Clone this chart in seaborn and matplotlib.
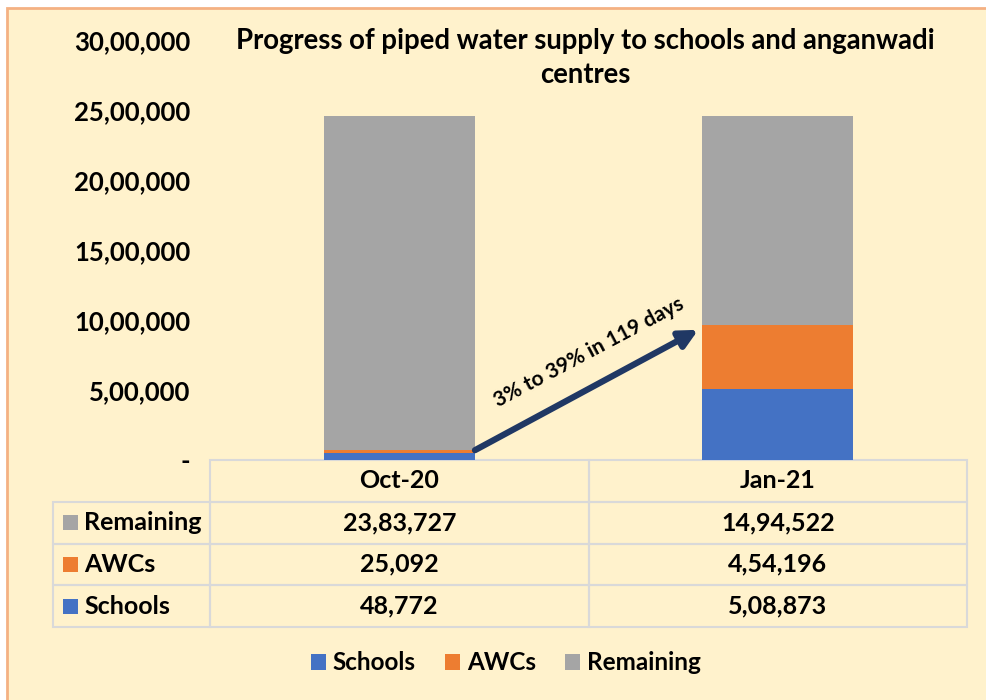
import matplotlib.pyplot as plt
import matplotlib.patches as mpatches
import pandas as pd
import seaborn as sns

# Dados
months = ['Oct-20', 'Jan-21']
schools = [48772, 508873]
awcs = [25092, 454196]
remaining = [2383727, 1494522]
series_names = ['Schools', 'AWCs', 'Remaining']
series_colors = ['#4472C4', '#ED7D31', '#A5A5A5']
y_ticks = [0, 500000, 1000000, 1500000, 2000000, 2500000, 3000000]
title = 'Progress of piped water supply to schools and anganwadi\ncentres'
arrow_label = '3% to 39% in 119 days'

BG = '#FFF2CC'
FONT = ['Lato', 'DejaVu Sans']


def indian(n):  # formata números no sistema indiano (lakh)
    if n == 0:
        return '-'
    s = str(int(n))
    if len(s) <= 3:
        return s
    head, tail = s[:-3], s[-3:]
    groups = []
    while len(head) > 2:
        groups.insert(0, head[-2:])
        head = head[:-2]
    if head:
        groups.insert(0, head)
    return ','.join(groups + [tail])


df = pd.DataFrame({'month': months, 'Schools': schools, 'AWCs': awcs, 'Remaining': remaining})

sns.set_theme(style='white')
plt.rcParams['font.family'] = FONT
plt.rcParams['font.weight'] = 'bold'
plt.rcParams['text.color'] = 'black'
plt.rcParams['ytick.color'] = 'black'

fig = plt.figure(figsize=(9.86, 7), dpi=100, facecolor='white')
fig.patches.append(mpatches.Rectangle((7 / 986, -0.05), 1.2, 1 - 8 / 700 + 0.05, transform=fig.transFigure,
                                      facecolor=BG, edgecolor='#F4B183', linewidth=2, zorder=-5))

ax = fig.add_axes([210 / 986, 1 - 460 / 700, 757 / 986, 420 / 700])
ax.set_facecolor('none')

# Barras empilhadas
bottom = [0, 0]
for name, color in zip(series_names, series_colors):
    sns.barplot(data=df, x='month', y=name, color=color, saturation=1, width=0.4,
                bottom=bottom, linewidth=0, ax=ax, zorder=2)
    bottom = [b + v for b, v in zip(bottom, df[name])]

ax.set_xlim(-0.5, 1.5)
ax.set_ylim(0, 3000000)
ax.set_yticks(y_ticks)
ax.set_yticklabels([indian(v) for v in y_ticks], fontsize=18.5, fontweight='bold', color='black')
ax.tick_params(axis='y', length=0, pad=14)
ax.set_xticks([])
ax.set_xlabel('')
ax.set_ylabel('')
for sp in ax.spines.values():
    sp.set_visible(False)

# Título
fig.text(585 / 986, 1 - 58 / 700, title, ha='center', va='center', fontsize=19.8,
         fontweight='bold', linespacing=1.35)

# Seta e rótulo
ax.annotate('', xy=(0.79, 930000), xytext=(0.2, 70000),
            arrowprops=dict(arrowstyle='-|>,head_length=0.9,head_width=0.45', color='#203864',
                            lw=4.5, shrinkA=0, shrinkB=0), zorder=3)
ax.text(0.5, 770000, arrow_label, rotation=28, rotation_mode='anchor', ha='center', va='center',
        fontsize=15, fontweight='bold', zorder=3)

# Tabela de dados (primeira coluna = rótulos das séries)
rows = ['Remaining', 'AWCs', 'Schools']
cell_text = [[''] + months] + [[r] + [indian(v) for v in df[r]] for r in rows]
lab_w = 157 / 757
tab_h = 167 / 420
table = ax.table(cellText=cell_text, cellLoc='center',
                 colWidths=[lab_w, 0.5, 0.5],
                 bbox=[-lab_w, -tab_h, 1 + lab_w, tab_h])
table.auto_set_font_size(False)
table.set_fontsize(18)
for (r, c), cell in table.get_celld().items():
    cell.set_edgecolor('#D9D9D9')
    cell.set_linewidth(1.5)
    cell.set_facecolor('none')
    cell.set_text_props(fontweight='bold', color='black')
    if c == 0:
        cell.set_text_props(ha='left')
        cell._loc = 'left'
        cell.PAD = 0.2
    if r == 0 and c == 0:
        cell.visible_edges = ''

# Quadrados coloridos ao lado dos rótulos
row_h = tab_h / 4
for i, r in enumerate(rows):
    color = series_colors[series_names.index(r)]
    yc = -row_h * (i + 1.5)
    ax.add_patch(mpatches.Rectangle((-147 / 757, yc - 7.5 / 420), 15 / 757, 15 / 420,
                                    transform=ax.transAxes, clip_on=False,
                                    facecolor=color, edgecolor='none'))

# Legenda
handles = [mpatches.Patch(facecolor=c, edgecolor='none') for c in series_colors]
fig.legend(handles, series_names, loc='center', bbox_to_anchor=(506 / 986, 1 - 663 / 700), ncol=3,
           frameon=False, handlelength=0.6, handleheight=0.6, handletextpad=0.3,
           columnspacing=1.2, prop={'size': 17.5, 'weight': 'bold'})

fig.savefig('out.png', dpi=100, facecolor='white')
